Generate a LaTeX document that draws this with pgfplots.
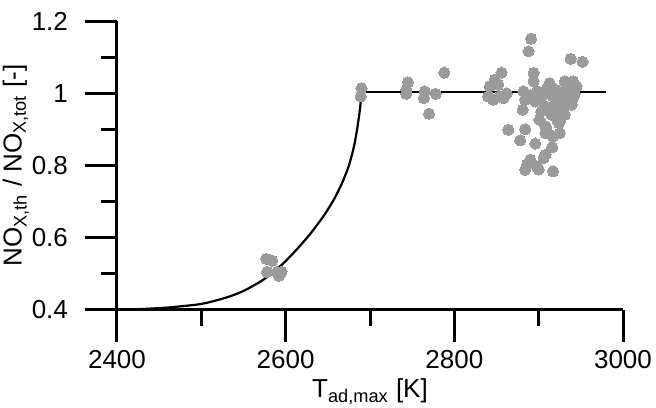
\documentclass[border=0pt]{standalone}
\usepackage{fontspec}
\setmainfont{Liberation Sans}
\usepackage{pgfplots}
\pgfplotsset{compat=1.18}
\definecolor{dotgray}{RGB}{155,155,155}
\begin{document}
\begin{tikzpicture}
\begin{axis}[
  name=ax,
  at={(0,0)}, anchor=south west,
  scale only axis,
  width=253pt, height=144.15pt,
  xmin=2400, xmax=3000, ymin=0.4, ymax=1.2,
  clip=false,
  axis lines*=left,
  axis line style={line width=1.5pt,-},
  xtick={2400,2600,2800,3000},
  minor xtick={2500,2700,2900},
  ytick={0.4,0.6,0.8,1.0,1.2},
  yticklabels={0.4,0.6,0.8,1,1.2},
  minor ytick={0.5,0.7,0.9,1.1},
  tick align=outside,
  major tick length=16pt,
  minor tick length=8pt,
  every tick/.style={line width=1.5pt,black},
  /pgf/number format/assume math mode=true,
  /pgf/number format/1000 sep={},
  tick label style={font=\fontsize{13}{15}\selectfont},
  xticklabel style={yshift=-1pt},
  yticklabel style={xshift=-5pt},
  label style={font=\fontsize{13}{15}\selectfont},
  xlabel={T\textsubscript{ad,max} [K]},
  ylabel={NO\textsubscript{X,th} / NO\textsubscript{X,tot} [-]},
  xlabel style={at={(axis description cs:0.5,0)}, anchor=base, yshift=-44pt},
  ylabel style={at={(axis description cs:-0.2,0.5)}, anchor=center},
]
\addplot[only marks, mark=*, mark size=2.8pt, mark options={fill=dotgray, draw=dotgray, line width=0pt}] coordinates {
(2577,0.541) (2584,0.536) (2578,0.505) (2590,0.505) (2592,0.494) (2595,0.505)
(2690,1.015) (2689,0.992)
(2745,1.031) (2743,0.999) (2743,1.010) (2765,1.006) (2764,0.987) (2778,0.999) (2770,0.944) (2788,1.058)
(2891,1.152) (2888,1.117) (2938,1.096) (2952,1.088) (2856,1.058) (2894,1.057)
(2848,1.038) (2842,1.020) (2852,1.024) (2840,0.992) (2854,0.992) (2846,0.983) (2858,0.987) (2862,1.000)
(2894,1.034) (2882,1.006) (2884,0.983) (2881,0.955) (2898,1.006) (2900,0.983) (2896,0.978)
(2913,1.029) (2931,1.034) (2941,1.034) (2937,1.015) (2908,1.001) (2917,0.992) (2925,0.992) (2933,0.997) (2937,0.983)
(2908,0.964) (2915,0.955) (2925,0.969) (2935,0.978) (2939,0.969) (2915,0.941) (2931,0.941) (2925,0.922)
(2901,0.927) (2908,0.909) (2910,0.895) (2922,0.927) (2924,0.918)
(2864,0.899) (2884,0.901) (2878,0.870) (2896,0.861) (2908,0.890) (2917,0.881) (2925,0.890) (2916,0.851)
(2908,0.830) (2906,0.821) (2890,0.816) (2886,0.802) (2884,0.788) (2898,0.798) (2900,0.789) (2917,0.784)
(2920,1.010) (2928,1.005) (2943,1.000) (2945,1.020) (2910,1.015) (2905,0.995) (2890,0.995) (2920,0.975)
(2930,0.960) (2941,0.990) (2903,0.950) (2926,0.945)
};
\addplot[black, line width=1.1pt, smooth, tension=0.4] coordinates {
(2400,0.400) (2430,0.402) (2460,0.406) (2500,0.416) (2530,0.434) (2550,0.452) (2570,0.478)
(2585,0.503) (2600,0.535) (2615,0.572) (2630,0.613) (2645,0.660) (2657,0.705) (2667,0.752)
(2675,0.800) (2681,0.853) (2685,0.905) (2688,0.955) (2690,1.004)
};
\addplot[black, line width=1.1pt] coordinates {(2690,1.004) (2980,1.004)};
\end{axis}
\pgfresetboundingbox
\path[use as bounding box] (-58.5pt,-49pt) rectangle (269.5pt,154.85pt);
\end{tikzpicture}
\end{document}
